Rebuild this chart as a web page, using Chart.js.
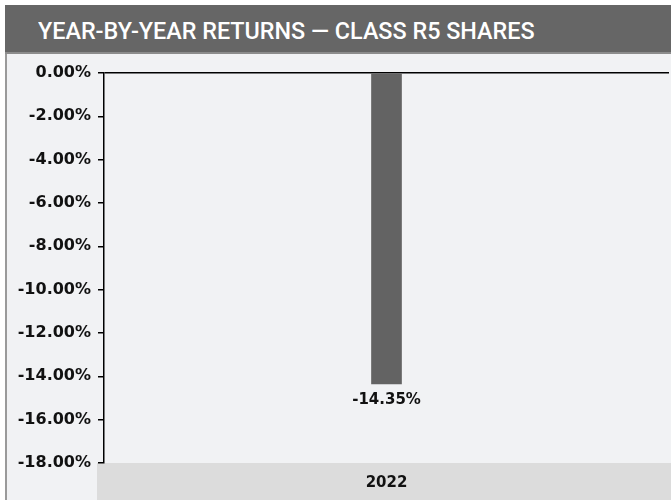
<!DOCTYPE html>
<html>
<head>
<meta charset="utf-8">
<script src="https://cdn.jsdelivr.net/npm/chart.js@4"></script>
<style>
  html, body { margin: 0; padding: 0; background: #fff; width: 671px; height: 500px; overflow: hidden; }
  #hdr {
    position: absolute; left: 5px; top: 5px; width: 666px; height: 49px;
    background: #666666; border-bottom: 2px solid #8c8c8c; box-sizing: border-box;
    overflow: hidden;
  }
  #title {
    position: absolute; left: 33px; top: 14px; white-space: nowrap;
    color: #fff; font-family: Roboto, sans-serif; font-weight: 500; font-size: 24px;
    line-height: 24px; transform-origin: left top;
  }
  #panel {
    position: absolute; left: 5px; top: 54px; width: 666px; height: 446px;
    background: #f1f2f4; border-left: 2px solid #9a9a9a; box-sizing: border-box;
  }
  #wrap { position: absolute; left: 0; top: 56px; width: 671px; height: 444px; }
</style>
</head>
<body>
<div id="hdr"><span id="title">YEAR-BY-YEAR RETURNS — CLASS R5 SHARES</span></div>
<div id="panel"></div>
<div id="wrap"><canvas id="returns"></canvas></div>
<script>
const years = ['2022'];
const returnsR5 = [-14.35];
const yMin = -18;
const yMax = 0;

// Titel auf Breite wie im Original bringen
const title = document.getElementById('title');
title.style.transform = 'scaleX(' + (497 / title.offsetWidth) + ')';

const ctx = document.getElementById('returns');
const labelFont = { family: '"DejaVu Sans", sans-serif', size: 15, weight: 'bold' };
const tickFont = { family: '"DejaVu Sans", sans-serif', size: 16, weight: 'bold' };

// grauer Streifen unter der Achse
const bandPlugin = {
    id: 'band',
    beforeDraw(chart) {
        const c = chart.ctx;
        const a = chart.chartArea;
        c.save();
        c.fillStyle = '#dcdcdc';
        c.fillRect(a.left - 7, a.bottom, chart.width - (a.left - 7), chart.height - a.bottom);
        c.restore();
    }
};

// Wert unter dem Balken
const valueLabels = {
    id: 'valueLabels',
    afterDatasetsDraw(chart) {
        const c = chart.ctx;
        const meta = chart.getDatasetMeta(0);
        c.save();
        c.font = 'bold 15px "DejaVu Sans", sans-serif';
        c.fillStyle = '#111';
        c.textAlign = 'center';
        c.textBaseline = 'middle';
        meta.data.forEach((bar, i) => {
            const v = chart.data.datasets[0].data[i];
            c.fillText(v.toFixed(2) + '%', bar.x, bar.y + 16);
        });
        c.restore();
    }
};

new Chart(ctx, {
    type: 'bar',
    data: {
        labels: years,
        datasets: [{
            label: 'Class R5',
            data: returnsR5,
            backgroundColor: '#636363',
            barThickness: 30
        }]
    },
    options: {
        responsive: true,
        maintainAspectRatio: false,
        animation: false,
        layout: { padding: { top: 17, right: 2, left: 0, bottom: 0 } },
        plugins: {
            legend: { display: false },
            tooltip: { enabled: false }
        },
        scales: {
            x: {
                grid: { display: false },
                border: { display: false },
                ticks: {
                    color: '#111',
                    padding: 3,
                    font: labelFont
                },
                afterFit(scale) { scale.height = 37; }
            },
            y: {
                min: yMin,
                max: yMax,
                ticks: {
                    stepSize: 2,
                    color: '#111',
                    padding: 7,
                    font: tickFont,
                    callback: v => v.toFixed(2) + '%'
                },
                grid: {
                    drawOnChartArea: true,
                    tickLength: 6,
                    tickColor: '#000',
                    lineWidth: 1.5,
                    color: c => c.tick && c.tick.value === 0 ? '#000' : 'rgba(0,0,0,0)'
                },
                border: { display: true, color: '#000', width: 1.5 },
                afterFit(scale) { scale.width = 104; }
            }
        }
    },
    plugins: [bandPlugin, valueLabels]
});
</script>
</body>
</html>
